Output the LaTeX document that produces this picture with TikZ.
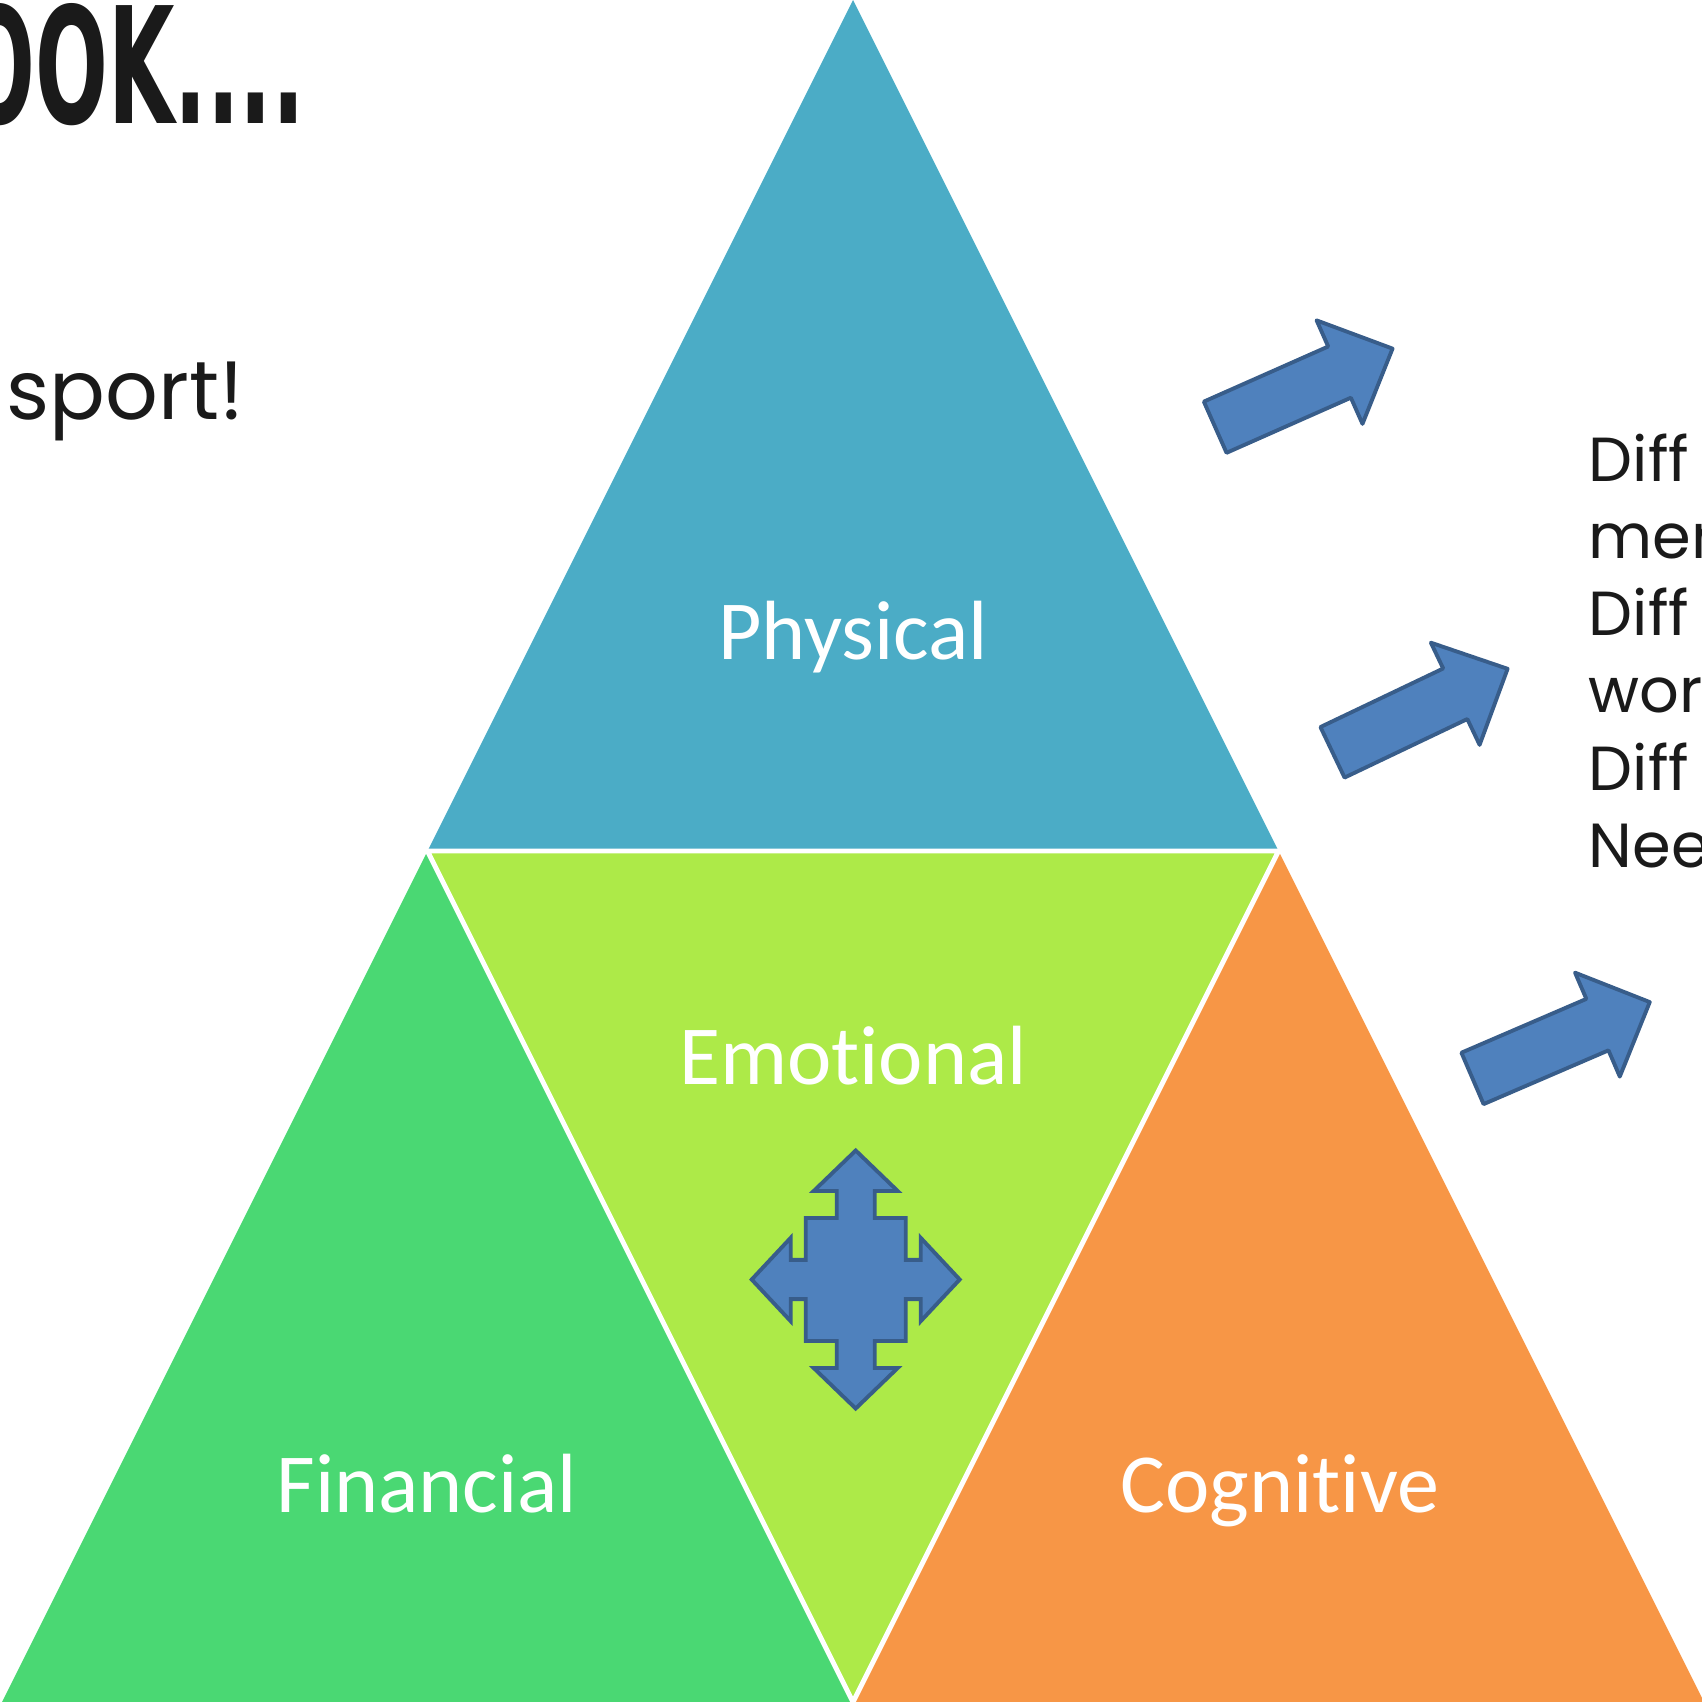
\documentclass[tikz,border=0pt]{standalone}
\usepackage{fontspec}
\setmainfont{Carlito}[Ligatures=NoCommon]
\newfontfamily\quotefont{Poppins}[Ligatures=NoCommon]
\newfontfamily\titlefont{DejaVu Sans}
\definecolor{physblue}{HTML}{4BACC6}
\definecolor{emogreen}{HTML}{ADEA48}
\definecolor{fingreen}{HTML}{4AD873}
\definecolor{cogorange}{HTML}{F79646}
\definecolor{arrowfill}{HTML}{4F81BD}
\definecolor{arrowline}{HTML}{385D8A}
\definecolor{inkdark}{HTML}{1A1A1A}

\begin{document}
\begin{tikzpicture}[x=0.01cm, y=-0.01cm,
  label/.style={text=white, font=\fontsize{23.9}{28}\selectfont, anchor=base, inner sep=0pt},
  blockarrow/.style={fill=arrowfill, draw=arrowline, line width=1.1pt},
  gap/.style={draw=white, line width=1.4pt}]
\useasboundingbox (0,0) rectangle (1702,1702);
\clip (0,0) rectangle (1702,1702);
% corners of the big triangle and its midpoints
\coordinate (top) at (853,0);
\coordinate (left) at (2,1702);
\coordinate (right) at (1704,1702);
\coordinate (ml) at (427.5,851);
\coordinate (mr) at (1278.5,851);
\coordinate (mb) at (853,1702);
\fill[physblue] (top) -- (ml) -- (mr) -- cycle;
\fill[fingreen] (ml) -- (left) -- (mb) -- cycle;
\fill[cogorange] (mr) -- (mb) -- (right) -- cycle;
\fill[emogreen] (ml) -- (mr) -- (mb) -- cycle;
\draw[gap] (ml) -- (mr) -- (mb) -- cycle;
\node[label] (physical) at (853,659) {Physical};
\node[label] (emotional) at (853,1084) {Emotional};
\node[label] (financial) at (427,1512) {Financial};
\node[label] (cognitive) at (1280,1512) {Cognitive};
% four-way arrow
\draw[blockarrow, shift={(855.7,1279.5)}] (0,-129) -- (42,-88.5) -- (19,-88.5) -- (19,-61.5) -- (50,-61.5) -- (50,-19.6) -- (65,-19.6) -- (65,-41.7) -- (104,0) -- (65,41.7) -- (65,19.6) -- (50,19.6) -- (50,61.5) -- (19,61.5) -- (19,88.5) -- (42,88.5) -- (0,129) -- (-42,88.5) -- (-19,88.5) -- (-19,61.5) -- (-50,61.5) -- (-50,19.6) -- (-65,19.6) -- (-65,41.7) -- (-104,0) -- (-65,-41.7) -- (-65,-19.6) -- (-50,-19.6) -- (-50,-61.5) -- (-19,-61.5) -- (-19,-88.5) -- (-42,-88.5) -- cycle;
% block arrows on the right
\draw[blockarrow, line join=round, shift={(1215.2,427.2)}, rotate=23.9] (0,-28) -- (136,-28) -- (136,-56.6) -- (194,0) -- (136,56.6) -- (136,28) -- (0,28) -- cycle;
\draw[blockarrow, line join=round, shift={(1332.5,752.3)}, rotate=25.5] (0,-28) -- (136,-28) -- (136,-56.6) -- (194,0) -- (136,56.6) -- (136,28) -- (0,28) -- cycle;
\draw[blockarrow, line join=round, shift={(1472.5,1078.4)}, rotate=23.3] (0,-28) -- (136,-28) -- (136,-56.6) -- (193,0) -- (136,56.6) -- (136,28) -- (0,28) -- cycle;
% texts
\node[anchor=base west, inner sep=0pt, xscale=0.53, text=inkdark, font=\titlefont\bfseries\fontsize{46}{50}\selectfont] (title) at (-38,123) {OOK....};
\node[anchor=base west, inner sep=0pt, text=inkdark, font=\quotefont\fontsize{23.5}{28}\selectfont] (sport) at (6,419) {sport!};
\node[anchor=base west, align=left, inner sep=0pt, text=inkdark, font=\quotefont\fontsize{17.7}{21.9}\selectfont] (needs) at (1588,867) {Diff\\mer\\Diff\\wor\\Diff\\Nee};
\end{tikzpicture}
\end{document}
